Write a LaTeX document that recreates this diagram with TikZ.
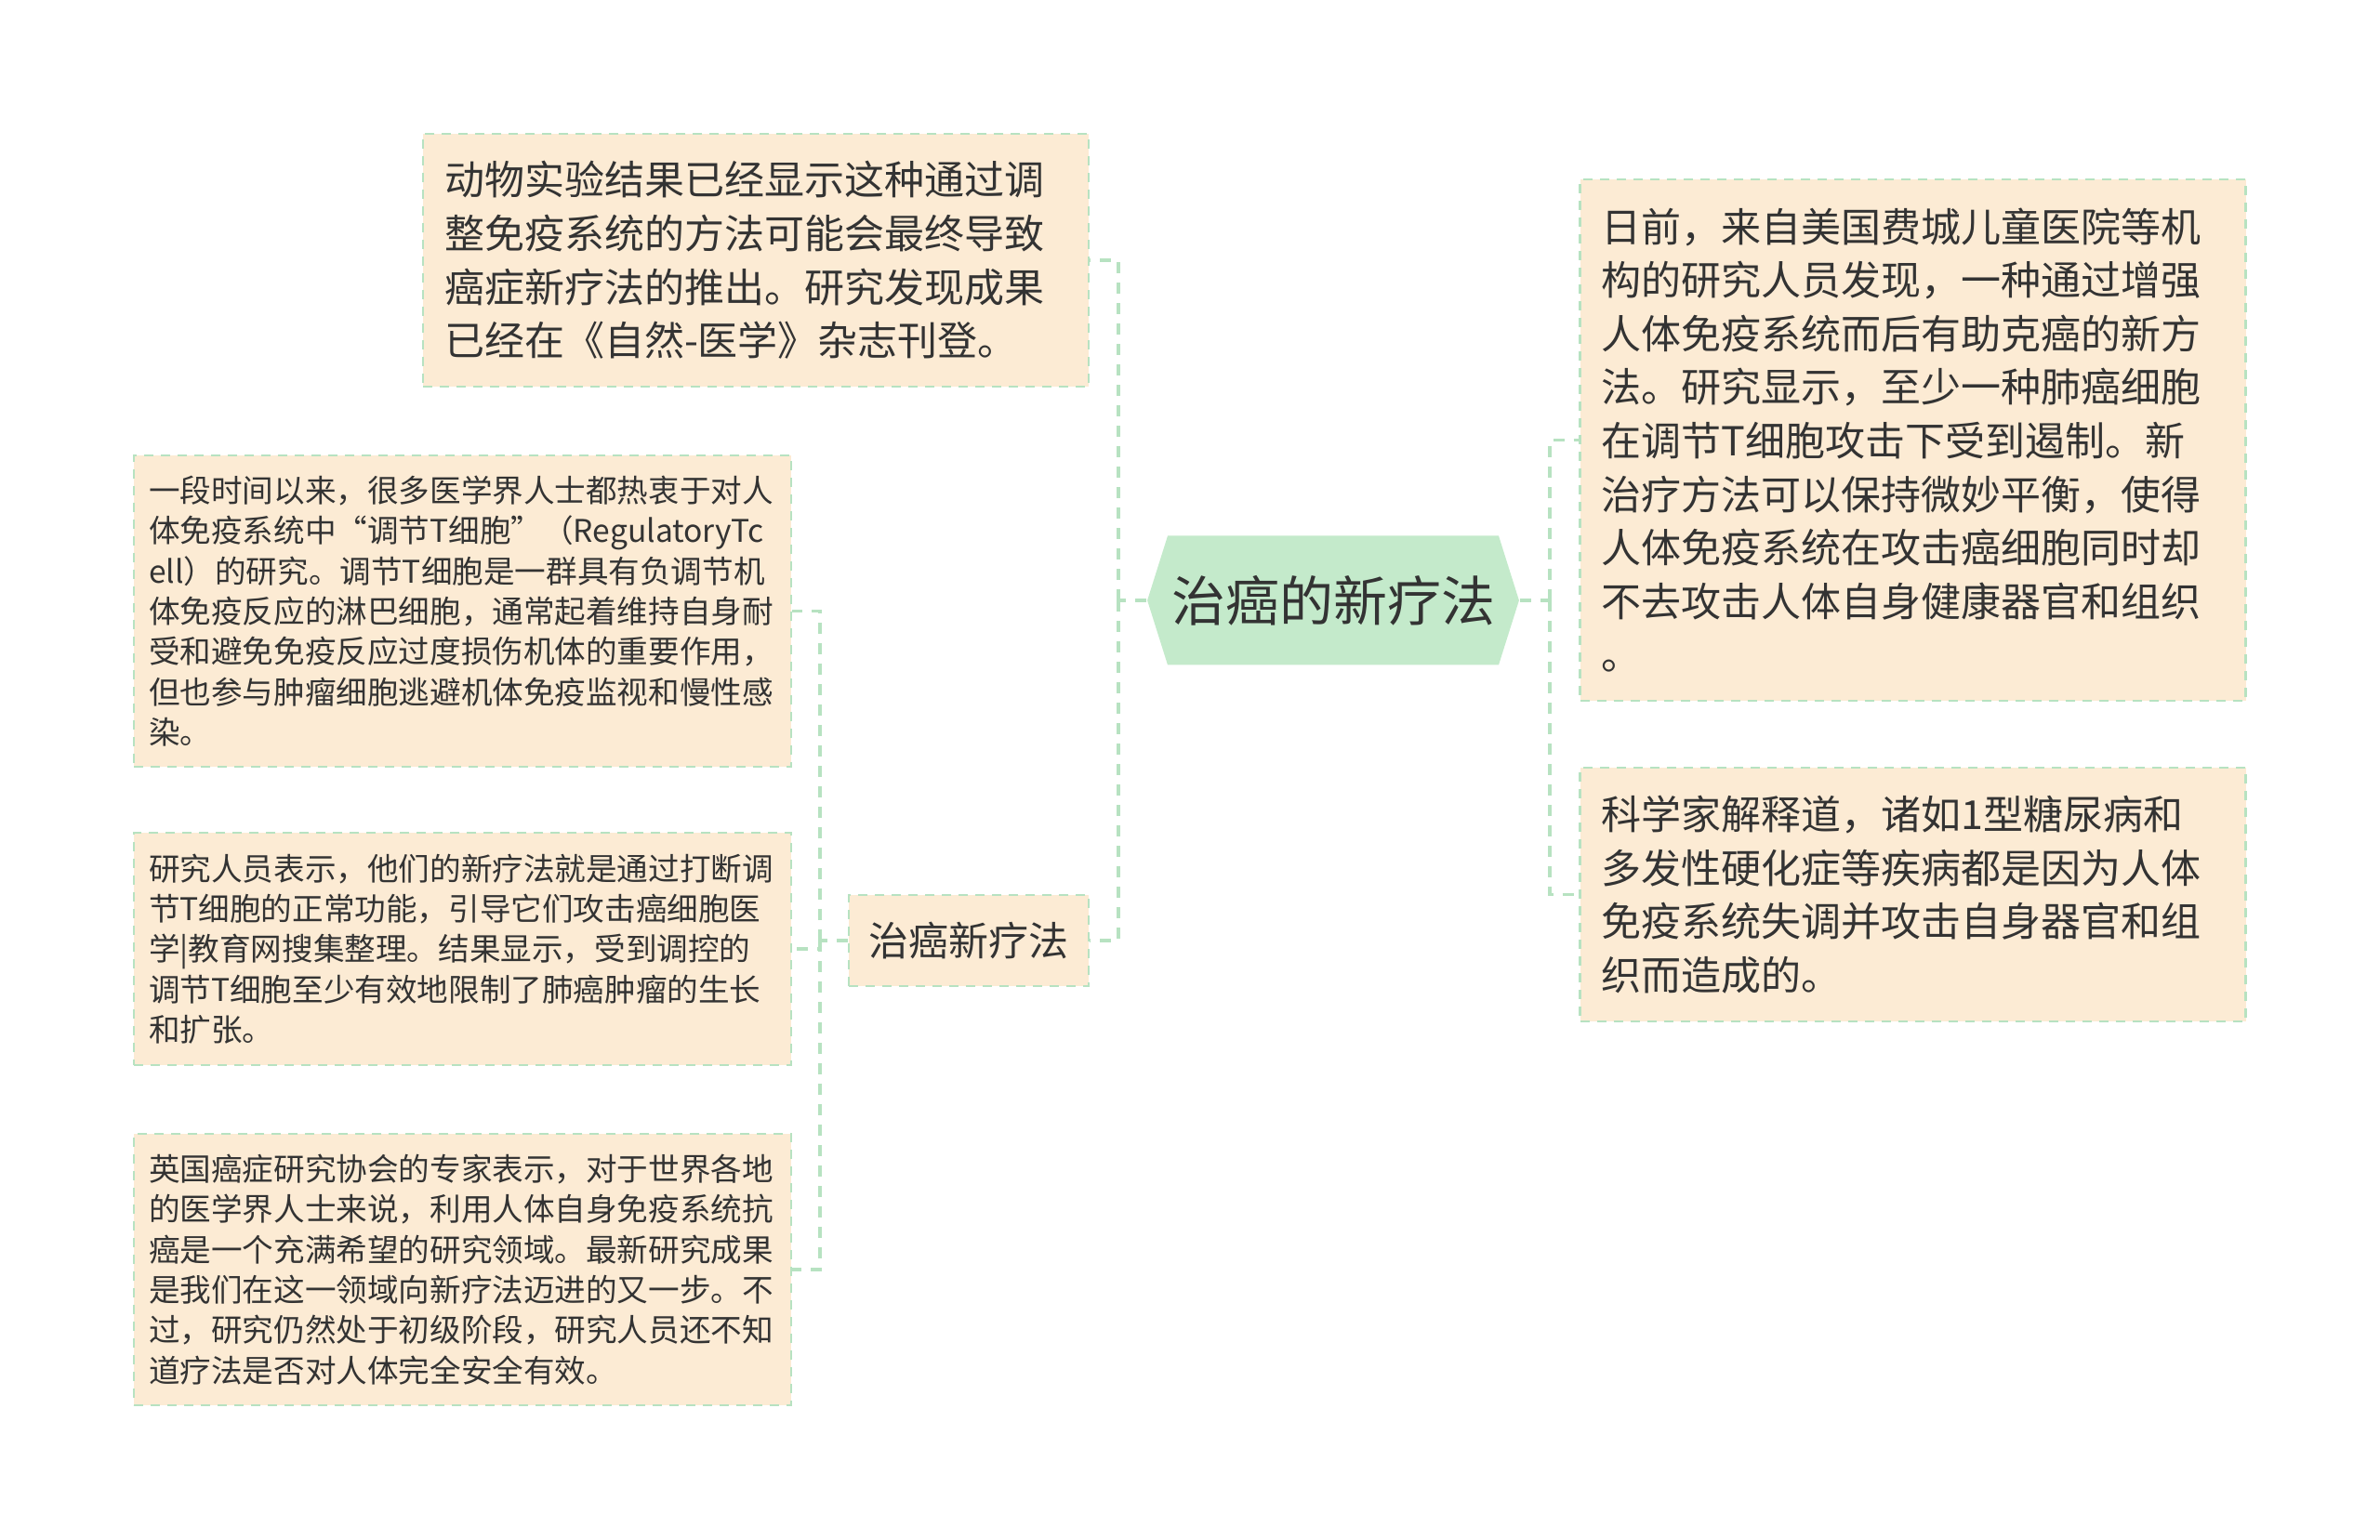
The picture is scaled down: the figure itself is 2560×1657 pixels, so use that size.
\documentclass[tikz,border=0pt]{standalone}
\usepackage{fontspec}
\setmainfont{Noto Sans CJK SC}
\usetikzlibrary{shapes.symbols}
\definecolor{boxfill}{RGB}{252,235,212}
\definecolor{edgegreen}{RGB}{183,226,193}
\definecolor{rootgreen}{RGB}{196,234,203}
\definecolor{inkgray}{RGB}{51,51,51}
\tikzstyle{note}=[draw=edgegreen,dash pattern=on 2.5pt off 2pt,line width=0.6pt,fill=boxfill,text=inkgray,align=left,inner ysep=0pt]
\tikzstyle{bignote}=[note,font=\fontsize{10.75pt}{14.4pt}\selectfont,inner xsep=5.75pt,text width=167.5pt]
\tikzstyle{smallnote}=[note,font=\fontsize{8.4pt}{10.83pt}\selectfont,inner xsep=4pt,text width=168.75pt]
\tikzstyle{rootnode}=[signal,signal to=west and east,signal pointer angle=145,fill=rootgreen,text=inkgray,font=\fontsize{14.5pt}{17pt}\selectfont,inner xsep=1pt,minimum height=34.75pt]
\tikzstyle{link}=[draw=edgegreen,line width=0.9pt,dash pattern=on 3pt off 2.5pt]

\begin{document}
\begin{tikzpicture}[x=0.25pt,y=-0.25pt]
  \useasboundingbox (0,0) rectangle (2560,1657);

  \node[rootnode] (root) at (1434,646) {治癌的新疗法};

  \node[bignote,minimum height=68pt] (tl) at (813,280) {动物实验结果已经显示这种通过调\\整免疫系统的方法可能会最终导致\\癌症新疗法的推出。研究发现成果\\已经在《自然-医学》杂志刊登。};
  \node[note,font=\fontsize{10.75pt}{14.4pt}\selectfont,align=center,minimum width=64.5pt,minimum height=24.5pt] (sub) at (1042,1012) {治癌新疗法};

  \node[smallnote,minimum height=83.75pt] (l1) at (497.5,657.5) {一段时间以来，很多医学界人士都热衷于对人\\体免疫系统中“调节T细胞”（RegulatoryTc\\ell）的研究。调节T细胞是一群具有负调节机\\体免疫反应的淋巴细胞，通常起着维持自身耐\\受和避免免疫反应过度损伤机体的重要作用，\\但也参与肿瘤细胞逃避机体免疫监视和慢性感\\染。};
  \node[smallnote,minimum height=62.5pt] (l2) at (497.5,1021) {研究人员表示，他们的新疗法就是通过打断调\\节T细胞的正常功能，引导它们攻击癌细胞医\\学|教育网搜集整理。结果显示，受到调控的\\调节T细胞至少有效地限制了肺癌肿瘤的生长\\和扩张。};
  \node[smallnote,minimum height=73pt] (l3) at (497.5,1366) {英国癌症研究协会的专家表示，对于世界各地\\的医学界人士来说，利用人体自身免疫系统抗\\癌是一个充满希望的研究领域。最新研究成果\\是我们在这一领域向新疗法迈进的又一步。不\\过，研究仍然处于初级阶段，研究人员还不知\\道疗法是否对人体完全安全有效。};

  \node[bignote,minimum height=140.25pt] (r1) at (2057.5,473.5) {日前，来自美国费城儿童医院等机\\构的研究人员发现，一种通过增强\\人体免疫系统而后有助克癌的新方\\法。研究显示，至少一种肺癌细胞\\在调节T细胞攻击下受到遏制。新\\治疗方法可以保持微妙平衡，使得\\人体免疫系统在攻击癌细胞同时却\\不去攻击人体自身健康器官和组织\\。};
  \node[bignote,minimum height=68.25pt] (r2) at (2057.5,962.5) {科学家解释道，诸如1型糖尿病和\\多发性硬化症等疾病都是因为人体\\免疫系统失调并攻击自身器官和组\\织而造成的。};

  \coordinate (lj) at (1203,646);
  \coordinate (sj) at (882,1012);
  \coordinate (rj) at (1667,646);

  \draw[link] (root.west) -- (lj);
  \foreach \to in {tl,sub}
      \draw[link] (lj) |- (\to.east);
  \draw[link] (sub.west) -- (sj);
  \foreach \to in {l1,l2,l3}
      \draw[link] (sj) |- (\to.east);
  \draw[link] (root.east) -- (rj);
  \foreach \to in {r1,r2}
      \draw[link] (rj) |- (\to.west);
\end{tikzpicture}
\end{document}
